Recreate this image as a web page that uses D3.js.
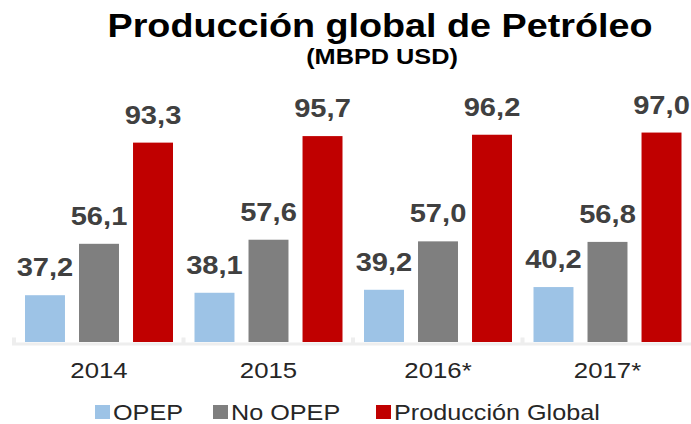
<!DOCTYPE html>
<html>
<head>
<meta charset="utf-8">
<script src="https://cdn.jsdelivr.net/npm/d3@7"></script>
<style>
  html, body { margin: 0; padding: 0; background: #ffffff; }
  svg { display: block; font-family: "Liberation Sans", Arial, sans-serif; }
</style>
</head>
<body>
<svg id="chart" width="691" height="424"></svg>
<script>
// ---- data ----
const categories = ["2014", "2015", "2016*", "2017*"];
const seriesNames = ["OPEP", "No OPEP", "Producción Global"];
const opep = [37.2, 38.1, 39.2, 40.2];
const noOpep = [56.1, 57.6, 57.0, 56.8];
const global = [93.3, 95.7, 96.2, 97.0];
const title = "Producción global de Petróleo";
const subtitle = "(MBPD USD)";

// ---- styles / layout ----
const colors = ["#9dc3e6", "#7f7f7f", "#c00000"];
const seriesValues = [opep, noOpep, global];
const fmt = v => v.toFixed(1).replace(".", ",");
const SX = 1.12; // horizontal text stretch seen in reference

const svg = d3.select("#chart");

const x0 = d3.scaleBand().domain(categories).range([12, 690]).paddingInner(0).paddingOuter(0);
const x1 = d3.scaleBand().domain(d3.range(seriesNames.length)).range([13, 161]).paddingInner(0.26).paddingOuter(0);
const y = d3.scaleLinear().domain([20, 100]).range([342, 124.4]);

// axis line
svg.append("rect")
  .attr("x", 12).attr("y", 342.5).attr("width", 679).attr("height", 3)
  .attr("fill", "#eeeeee");

// tick marks at category boundaries (inside, upward)
const boundaries = categories.map(c => x0(c));
svg.selectAll("rect.tick").data(boundaries).enter().append("rect")
  .attr("class", "tick")
  .attr("x", d => d).attr("y", 337.5).attr("width", 4).attr("height", 6)
  .attr("fill", "#eeeeee");

// bars
const groups = svg.selectAll("g.grp").data(categories).enter().append("g")
  .attr("class", "grp")
  .attr("transform", c => `translate(${x0(c)},0)`);

groups.each(function(c, ci) {
  const g = d3.select(this);
  seriesValues.forEach((vals, si) => {
    const v = vals[ci];
    g.append("rect")
      .attr("x", x1(si))
      .attr("y", y(v))
      .attr("width", x1.bandwidth())
      .attr("height", y(20) - y(v))
      .attr("fill", colors[si]);
    g.append("text")
      .attr("transform", `translate(${x1(si) + x1.bandwidth() / 2},${y(v) - 19}) scale(${SX},1)`)
      .attr("text-anchor", "middle")
      .attr("font-size", 26)
      .attr("font-weight", "bold")
      .attr("fill", "#404040")
      .text(fmt(v));
  });
});

// category labels
svg.selectAll("text.cat").data(categories).enter().append("text")
  .attr("class", "cat")
  .attr("transform", c => `translate(${x0(c) + 13 + 74},378) scale(${SX},1)`)
  .attr("text-anchor", "middle")
  .attr("font-size", 23)
  .attr("fill", "#262626")
  .text(c => c);

// title
svg.append("text")
  .attr("transform", `translate(380,36.5) scale(1.11,1)`)
  .attr("text-anchor", "middle")
  .attr("font-size", 34)
  .attr("font-weight", "bold")
  .attr("fill", "#000000")
  .text(title);

svg.append("text")
  .attr("transform", `translate(382,64) scale(1.15,1)`)
  .attr("text-anchor", "middle")
  .attr("font-size", 22)
  .attr("font-weight", "bold")
  .attr("fill", "#000000")
  .text(subtitle);

// legend
const legendX = [95, 213, 376];
const legend = svg.selectAll("g.leg").data(seriesNames).enter().append("g")
  .attr("class", "leg")
  .attr("transform", (d, i) => `translate(${legendX[i]},0)`);
legend.append("rect")
  .attr("x", 0).attr("y", 405).attr("width", 15).attr("height", 14)
  .attr("fill", (d, i) => colors[i]);
legend.append("text")
  .attr("transform", `translate(18,419.5) scale(${SX},1)`)
  .attr("font-size", 22.5)
  .attr("fill", "#262626")
  .text(d => d);
</script>
</body>
</html>
